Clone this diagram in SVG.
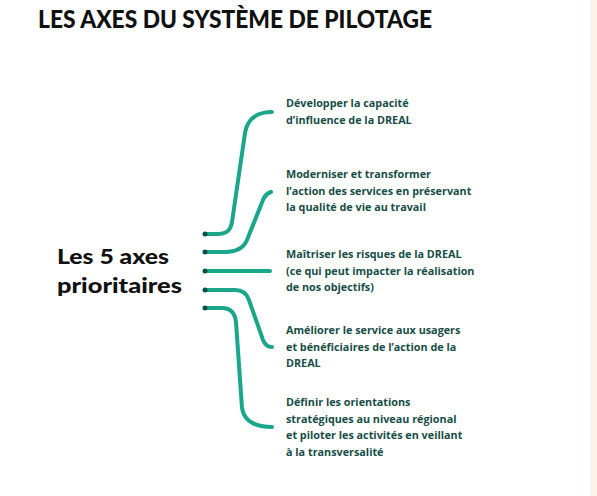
<svg xmlns="http://www.w3.org/2000/svg" width="597" height="496" viewBox="0 0 597 496">
<style>
.title{font-family:Lato,"Liberation Sans",sans-serif;font-weight:900;font-size:24px;fill:#111}
.main{font-family:Lato,"Liberation Sans",sans-serif;font-weight:900;font-size:20px;fill:#111}
.lbl{font-family:"Open Sans","Liberation Sans",sans-serif;font-weight:bold;font-size:10.8px;fill:#174d47}
.conn{fill:none;stroke:#1aa68a;stroke-width:4;stroke-linecap:round;stroke-linejoin:round}
.dot{fill:#0d5046}
</style>
<rect x="0" y="0" width="597" height="496" fill="#ffffff"/>
<rect x="590" y="0" width="7" height="496" fill="#fdf3e9"/>
<text class="title" x="38" y="28" textLength="394" lengthAdjust="spacingAndGlyphs">LES AXES DU SYSTÈME DE PILOTAGE</text>
<g id="center">
<text class="main" x="57" y="264" textLength="112" lengthAdjust="spacingAndGlyphs">Les 5 axes</text>
<text class="main" x="57" y="293" textLength="125" lengthAdjust="spacingAndGlyphs">prioritaires</text>
</g>
<g id="connectors">
<path class="conn" d="M205,234 H218 C228,234 231,229 232,222 L245,133 C247,120 256,112 272,112"/>
<path class="conn" d="M205,252 H225 C238,252 244,247 247,240 L263,200 C265,195 268,193 271,192"/>
<path class="conn" d="M205,271 H270"/>
<path class="conn" d="M205,290 H235 C243,290 247,294 249,300 L263,340 C265,345 268,347 272,347"/>
<path class="conn" d="M205,308 H222 C231,308 235,313 236,322 L242,408 C244,420 254,427 272,427"/>
<circle class="dot" cx="205" cy="234" r="2.5"/>
<circle class="dot" cx="205" cy="252" r="2.5"/>
<circle class="dot" cx="205" cy="271" r="2.5"/>
<circle class="dot" cx="205" cy="290" r="2.5"/>
<circle class="dot" cx="205" cy="308" r="2.5"/>
</g>
<g id="axe1">
<text class="lbl" x="286" y="107">Développer la capacité</text>
<text class="lbl" x="286" y="124">d’influence de la DREAL</text>
</g>
<g id="axe2">
<text class="lbl" x="286" y="178">Moderniser et transformer</text>
<text class="lbl" x="286" y="195">l’action des services en préservant</text>
<text class="lbl" x="286" y="211">la qualité de vie au travail</text>
</g>
<g id="axe3">
<text class="lbl" x="286" y="258">Maîtriser les risques de la DREAL</text>
<text class="lbl" x="286" y="275">(ce qui peut impacter la réalisation</text>
<text class="lbl" x="286" y="291">de nos objectifs)</text>
</g>
<g id="axe4">
<text class="lbl" x="286" y="334">Améliorer le service aux usagers</text>
<text class="lbl" x="286" y="351">et bénéficiaires de l’action de la</text>
<text class="lbl" x="286" y="367">DREAL</text>
</g>
<g id="axe5">
<text class="lbl" x="286" y="406">Définir les orientations</text>
<text class="lbl" x="286" y="423">stratégiques au niveau régional</text>
<text class="lbl" x="286" y="439">et piloter les activités en veillant</text>
<text class="lbl" x="286" y="456">à la transversalité</text>
</g>
</svg>
